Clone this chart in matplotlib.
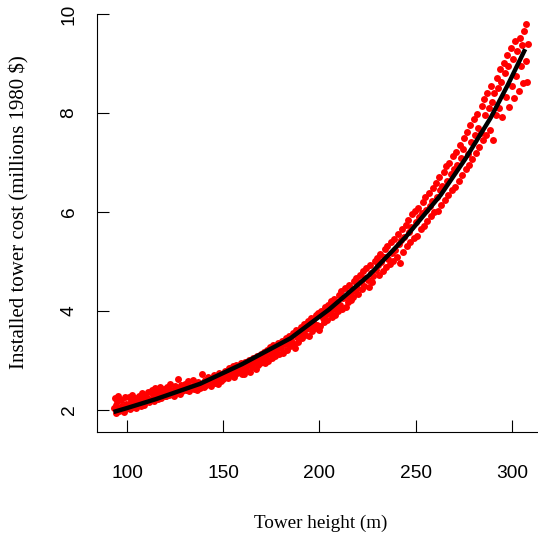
import matplotlib
matplotlib.use("Agg")
import matplotlib.pyplot as plt

# tower height (m) and installed cost (millions 1980 $)
height = [
    93.2, 93.6, 94.1, 94.5, 95.0, 95.4, 96.0, 96.5, 97.1, 97.6, 98.2, 98.7, 99.3, 99.8,
    100.4, 100.9, 101.5, 102.0, 102.6, 103.1, 103.7, 104.3, 104.8, 105.4, 106.0, 106.5, 107.1, 107.7, 108.2, 108.8, 109.4, 109.9,
    110.5, 111.1, 111.6, 112.2, 112.8, 113.3, 113.9, 114.5, 115.0, 115.6, 116.2, 116.7, 117.3, 117.9, 118.4, 119.0, 119.6,
    120.2, 120.8, 121.3, 121.9, 122.5, 123.0, 123.6, 124.2, 124.8, 125.4, 126.0, 126.5, 127.1, 127.7, 128.3, 128.8, 129.4,
    130.0, 130.6, 131.2, 131.8, 132.3, 132.9, 133.5, 134.1, 134.7, 135.3, 135.9, 136.5, 137.0, 137.6, 138.2, 138.8, 139.4, 139.9,
    140.5, 141.1, 141.7, 142.3, 142.9, 143.5, 144.1, 144.7, 145.3, 145.9, 146.5, 147.1, 147.7, 148.3, 148.9, 149.5,
    150.1, 150.7, 151.3, 151.9, 152.5, 153.1, 153.7, 154.3, 154.9, 155.5, 156.1, 156.7, 157.3, 157.9, 158.5, 159.1, 159.7,
    160.3, 160.9, 161.5, 162.1, 162.7, 163.3, 163.9, 164.5, 165.1, 165.7, 166.3, 166.9, 167.5, 168.1, 168.7, 169.3, 169.9,
    170.5, 171.1, 171.7, 172.3, 172.9, 173.5, 174.1, 174.7, 175.3, 175.9, 176.5, 177.1, 177.7, 178.3, 178.9, 179.5,
    180.1, 180.7, 181.3, 181.9, 182.5, 183.1, 183.7, 184.3, 184.9, 185.5, 186.1, 186.7, 187.3, 187.9, 188.5, 189.1, 189.7,
    190.3, 190.9, 191.5, 192.1, 192.7, 193.3, 193.9, 194.5, 195.1, 195.7, 196.3, 196.9, 197.5, 198.1, 198.7, 199.3, 199.9,
    200.5, 201.1, 201.7, 202.3, 202.9, 203.5, 204.1, 204.7, 205.3, 205.9, 206.5, 207.1, 207.7, 208.3, 208.9, 209.5,
    210.1, 210.7, 211.3, 211.9, 212.5, 213.1, 213.7, 214.3, 214.9, 215.5, 216.1, 216.7, 217.3, 217.9, 218.5, 219.1, 219.7,
    220.3, 220.9, 221.5, 222.1, 222.7, 223.3, 223.9, 224.5, 225.1, 225.7, 226.3, 226.9, 227.5, 228.1, 228.7, 229.3, 229.9,
    230.5, 231.1, 231.7, 232.3, 232.9, 233.5, 234.1, 234.7, 235.3, 235.9, 236.5, 237.1, 237.7, 238.3, 238.9, 239.5,
    240.1, 240.7, 241.3, 241.8, 242.4, 243.0, 243.6, 244.2, 244.8, 245.4, 246.0, 246.6, 247.2, 247.8, 248.4, 249.0, 249.6,
    250.2, 250.8, 251.4, 252.0, 252.6, 253.2, 253.8, 254.4, 255.0, 255.6, 256.2, 256.8, 257.4, 258.0, 258.6, 259.2, 259.8,
    260.4, 261.0, 261.6, 262.2, 262.8, 263.4, 264.0, 264.6, 265.2, 265.8, 266.4, 267.0, 267.6, 268.2, 268.8, 269.4, 270.0,
    270.6, 271.2, 271.8, 272.4, 273.0, 273.6, 274.2, 274.8, 275.4, 276.0, 276.6, 277.2, 277.8, 278.4, 279.0, 279.6,
    280.2, 280.8, 281.4, 282.0, 282.6, 283.2, 283.8, 284.4, 285.0, 285.6, 286.2, 286.8, 287.4, 288.0, 288.6, 289.2, 289.8,
    290.4, 291.0, 291.6, 292.2, 292.8, 293.4, 294.0, 294.6, 295.2, 295.8, 296.4, 297.0, 297.6, 298.2, 298.8, 299.4, 300.0,
    300.6, 301.2, 301.8, 302.4, 303.0, 303.6, 304.2, 304.8, 305.4, 306.0, 306.6, 307.2, 307.6, 308.2, 308.6,
]
cost = [
    2.05, 2.24, 1.93, 2.11, 2.18, 2.29, 1.98, 2.02, 2.20, 2.08, 1.95, 2.26, 2.13, 2.04,
    2.10, 2.27, 2.02, 2.19, 2.31, 2.07, 2.15, 2.24, 2.05, 2.12, 2.29, 2.22, 2.09, 2.34, 2.17, 2.11, 2.26, 2.20,
    2.25, 2.36, 2.16, 2.21, 2.41, 2.30, 2.19, 2.44, 2.27, 2.33, 2.22, 2.38, 2.47, 2.25, 2.32, 2.42, 2.28,
    2.28, 2.46, 2.37, 2.31, 2.52, 2.40, 2.34, 2.29, 2.48, 2.42, 2.36, 2.62, 2.44, 2.33, 2.51, 2.39, 2.46,
    2.52, 2.41, 2.46, 2.58, 2.39, 2.49, 2.44, 2.61, 2.43, 2.53, 2.47, 2.40, 2.57, 2.50, 2.44, 2.72, 2.55, 2.47,
    2.60, 2.50, 2.56, 2.66, 2.52, 2.49, 2.63, 2.58, 2.70, 2.55, 2.61, 2.53, 2.74, 2.64, 2.59, 2.68,
    2.62, 2.79, 2.68, 2.73, 2.65, 2.84, 2.76, 2.70, 2.88, 2.67, 2.80, 2.91, 2.74, 2.83, 2.78, 2.95, 2.72,
    2.85, 2.72, 2.96, 2.80, 2.91, 3.01, 2.77, 2.94, 2.86, 3.06, 2.98, 2.83, 3.10, 2.90, 3.03, 2.95, 3.14,
    3.05, 3.18, 2.95, 3.10, 3.22, 3.00, 3.27, 3.14, 3.06, 3.31, 3.19, 3.09, 3.23, 3.36, 3.13, 3.29,
    3.26, 3.40, 3.15, 3.33, 3.45, 3.21, 3.37, 3.50, 3.29, 3.42, 3.56, 3.34, 3.25, 3.61, 3.47, 3.38, 3.54,
    3.68, 3.45, 3.58, 3.74, 3.52, 3.63, 3.80, 3.49, 3.70, 3.85, 3.59, 3.77, 3.66, 3.91, 3.72, 3.95, 3.62,
    3.70, 4.01, 3.86, 3.78, 4.08, 3.94, 3.82, 4.13, 3.97, 4.20, 3.88, 4.05, 4.24, 3.92, 4.11, 4.00,
    4.33, 4.12, 4.40, 4.04, 4.26, 4.46, 4.09, 4.31, 4.18, 4.52, 4.36, 4.22, 4.28, 4.60, 4.41, 4.66, 4.47,
    4.35, 4.72, 4.58, 4.44, 4.80, 4.50, 4.66, 4.86, 4.62, 4.48, 4.93, 4.76, 4.58, 4.70, 5.01, 4.82, 5.07,
    4.92, 4.72, 5.15, 5.00, 4.80, 5.10, 5.25, 4.88, 5.31, 5.05, 4.95, 5.40, 5.18, 5.02, 5.46, 5.24,
    5.10, 5.55, 5.35, 4.97, 5.44, 5.66, 5.20, 5.50, 5.74, 5.32, 5.84, 5.60, 5.40, 5.70, 5.95, 5.47, 6.02,
    5.79, 5.52, 6.08, 5.90, 5.65, 5.98, 6.20, 5.72, 6.30, 6.04, 5.82, 6.38, 6.12, 5.91, 6.22, 6.48, 6.00,
    6.58, 6.30, 6.02, 6.70, 6.45, 6.15, 6.52, 6.81, 6.24, 6.92, 6.62, 6.35, 7.00, 6.76, 6.44, 7.14, 6.86,
    6.50, 7.22, 6.95, 6.62, 7.35, 7.10, 6.74, 7.28, 7.50, 6.86, 7.62, 7.18, 6.95, 7.75, 7.42, 7.08,
    7.88, 7.55, 7.20, 7.98, 7.70, 7.32, 7.60, 8.15, 7.45, 8.28, 7.95, 7.56, 8.40, 8.10, 7.66, 8.55, 8.22,
    7.45, 8.40, 7.95, 8.70, 8.50, 8.10, 8.88, 8.62, 7.92, 9.02, 8.80, 8.33, 9.18, 8.95, 8.12, 9.32, 8.55,
    9.10, 8.30, 9.45, 8.75, 9.25, 8.45, 9.52, 8.95, 9.38, 8.60, 9.65, 9.80, 9.05, 8.62, 9.40,
]

# fitted curve
fit_height = [93, 100, 115, 138, 160, 185, 205, 226, 245, 263, 276, 289, 298, 307]
fit_cost = [1.96, 2.04, 2.22, 2.53, 2.93, 3.45, 4.03, 4.73, 5.50, 6.34, 7.08, 7.90, 8.57, 9.29]

x_ticks = [100, 150, 200, 250, 300]
y_ticks = [2, 4, 6, 8, 10]

W, H = 538, 537
fig = plt.figure(figsize=(W / 100, H / 100), dpi=100)
# axes box in pixels: left 97, right 545 (past the edge), top 14, bottom 432
ax = fig.add_axes([97 / W, (H - 432) / H, (545 - 97) / W, (432 - 14) / H])

ax.plot(height, cost, "o", color="red", ms=5.0, mec="none")
ax.plot(fit_height, fit_cost, color="black", lw=3.2, solid_capstyle="butt",
        solid_joinstyle="round")

ax.set_xlim(84.4, 317.3)
ax.set_ylim(1.556, 10.0)
ax.set_xticks(x_ticks)
ax.set_yticks(y_ticks)

for s in ["top", "right"]:
    ax.spines[s].set_visible(False)
for s in ["left", "bottom"]:
    ax.spines[s].set_linewidth(0.8)

ax.tick_params(axis="both", direction="in", length=8.6, width=0.8,
               labelsize=13.8, labelfontfamily="Liberation Sans")
ax.tick_params(axis="x", pad=23.5)
ax.tick_params(axis="y", pad=14)
for lab in ax.get_yticklabels():
    lab.set_rotation(90)
    lab.set_va("center")

ax.set_xlabel("Tower height (m)", family="Liberation Serif", fontsize=13.8, va="top")
ax.xaxis.set_label_coords(0.5, -0.199)
ax.set_ylabel("Installed tower cost (millions 1980 $)", family="Liberation Serif",
              fontsize=15, va="center")
ax.yaxis.set_label_coords(-0.173, 0.525)

fig.savefig("out.png", dpi=100)
